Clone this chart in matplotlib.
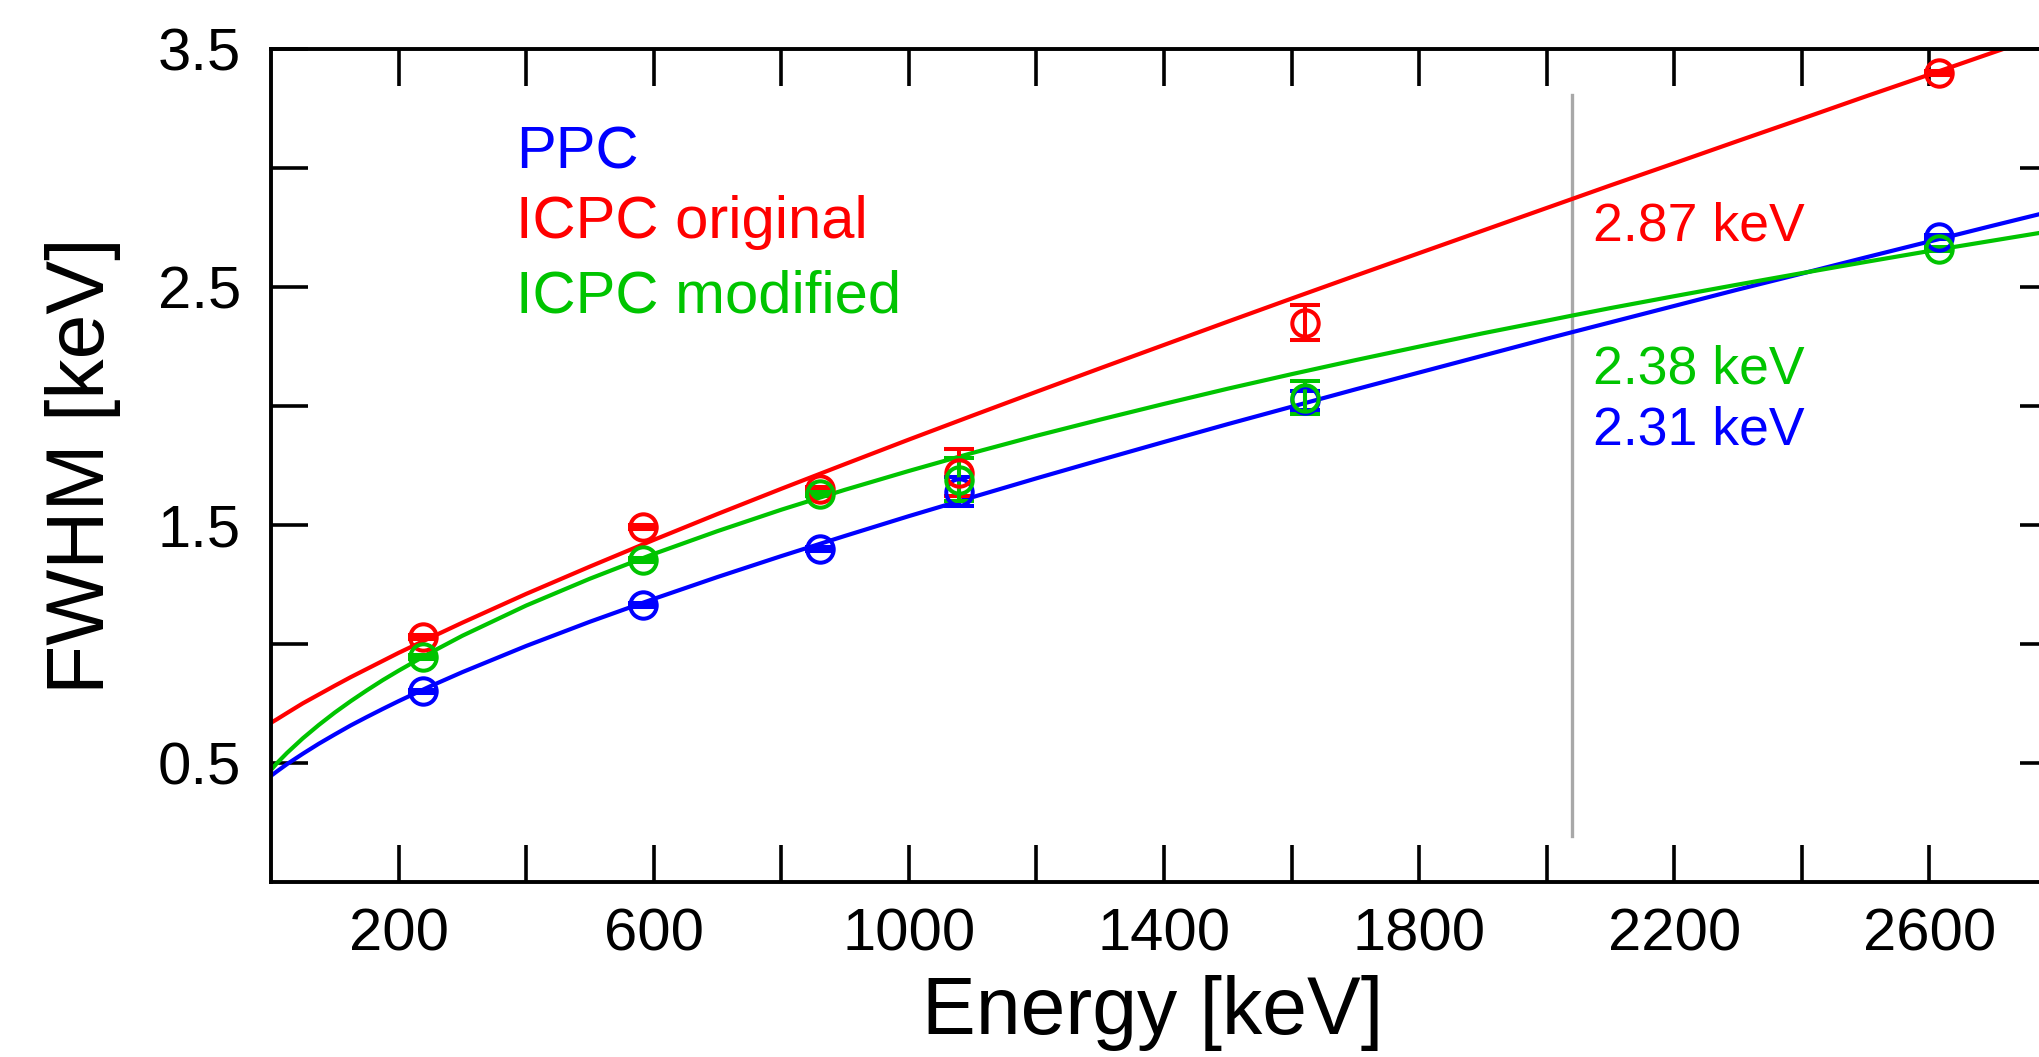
import numpy as np
import matplotlib
matplotlib.use('Agg')
from matplotlib import pyplot as plt

plt.rcParams['font.family'] = ['Liberation Sans', 'DejaVu Sans']

# peak energies of the calibration lines [keV]
energy = [238.6, 583.2, 860.6, 1078.6, 1620.5, 2614.5]

# measured FWHM [keV] and uncertainties per detector
ppc_fwhm = [0.80, 1.165, 1.40, 1.64, 2.025, 2.712]
ppc_err = [0.008, 0.008, 0.008, 0.06, 0.04, 0.008]
orig_fwhm = [1.028, 1.493, 1.651, 1.72, 2.35, 3.40]
orig_err = [0.008, 0.008, 0.008, 0.10, 0.073, 0.008]
mod_fwhm = [0.945, 1.351, 1.630, 1.69, 2.035, 2.662]
mod_err = [0.008, 0.008, 0.008, 0.09, 0.07, 0.008]

# resolution curves
fit_energy = [0, 10, 25, 50, 75, 100, 125, 150, 175, 200, 250, 300, 400, 500, 600,
              700, 800, 900, 1000, 1100, 1200, 1300, 1400, 1500, 1600, 1700, 1800,
              1900, 2000, 2039, 2100, 2200, 2300, 2400, 2500, 2600, 2700, 2800]
ppc_fit = [0.445, 0.465, 0.494, 0.538, 0.580, 0.619, 0.657, 0.692, 0.726, 0.759,
           0.822, 0.881, 0.991, 1.093, 1.189, 1.281, 1.369, 1.454, 1.537, 1.617,
           1.696, 1.773, 1.849, 1.924, 1.997, 2.070, 2.141, 2.212, 2.283, 2.310,
           2.352, 2.421, 2.490, 2.557, 2.625, 2.692, 2.759, 2.825]
orig_fit = [0.668, 0.684, 0.709, 0.750, 0.787, 0.824, 0.860, 0.894, 0.928, 0.962,
            1.026, 1.089, 1.210, 1.325, 1.437, 1.546, 1.652, 1.756, 1.859, 1.960,
            2.060, 2.159, 2.257, 2.355, 2.452, 2.548, 2.643, 2.738, 2.833, 2.870,
            2.928, 3.021, 3.115, 3.208, 3.302, 3.394, 3.487, 3.579]
mod_fit = [0.470, 0.500, 0.541, 0.603, 0.659, 0.711, 0.759, 0.804, 0.847, 0.887,
           0.963, 1.034, 1.161, 1.274, 1.378, 1.474, 1.564, 1.648, 1.727, 1.803,
           1.875, 1.943, 2.009, 2.073, 2.134, 2.193, 2.250, 2.306, 2.359, 2.380,
           2.412, 2.462, 2.511, 2.559, 2.606, 2.652, 2.696, 2.740]

q_bb = 2039
labels = ['PPC', 'ICPC original', 'ICPC modified']
q_labels = ['2.31 keV', '2.87 keV', '2.38 keV']

c_ppc = '#0000ff'
c_orig = '#ff0000'
c_mod = '#00c400'

fig = plt.figure(figsize=(20.39, 10.57), dpi=100)
ax = fig.add_axes([0.1329, 0.1659, 0.8759, 0.7874])

ax.plot(fit_energy, ppc_fit, color=c_ppc, lw=3.0, zorder=2)
ax.plot(fit_energy, orig_fit, color=c_orig, lw=3.0, zorder=2)
ax.plot(fit_energy, mod_fit, color=c_mod, lw=3.0, zorder=2)

for y, err, c in [(ppc_fwhm, ppc_err, c_ppc), (orig_fwhm, orig_err, c_orig), (mod_fwhm, mod_err, c_mod)]:
    ax.errorbar(energy, y, yerr=err, fmt='o', color=c, mfc='none', mec=c, ms=19, mew=2.9,
                elinewidth=2.9, capsize=10.5, capthick=2.9, zorder=3)

ax.plot([q_bb, q_bb], [0.19, 3.31], color='#a8a8a8', lw=2.4, zorder=1)

ax.text(384, 3.0, labels[0], color=c_ppc, fontsize=43)
ax.text(384, 2.705, labels[1], color=c_orig, fontsize=43)
ax.text(384, 2.395, labels[2], color=c_mod, fontsize=43)

ax.text(2072, 2.695, q_labels[1], color=c_orig, fontsize=38.5)
ax.text(2072, 2.095, q_labels[2], color=c_mod, fontsize=38.5)
ax.text(2072, 1.84, q_labels[0], color=c_ppc, fontsize=38.5)

ax.set_xlim(0, 2800)
ax.set_ylim(0, 3.5)

xt = np.arange(200, 2801, 200)
ax.set_xticks(xt)
ax.set_xticklabels([str(t) if t % 400 == 200 else '' for t in xt])
yt = np.arange(0.5, 3.51, 0.5)
ax.set_yticks(yt)
ax.set_yticklabels([('%.1f' % t) if round(t * 2) % 2 == 1 else '' for t in yt])

ax.tick_params(axis='both', which='major', direction='in', length=26.5, width=2.6,
               top=True, right=True, labelsize=43)
ax.tick_params(axis='x', pad=18.5)
ax.tick_params(axis='y', pad=21.5)
for s in ax.spines.values():
    s.set_linewidth(2.8)

ax.set_xlabel('Energy [keV]', fontsize=58)
ax.xaxis.set_label_coords(0.4938, -0.112)
ax.set_ylabel('FWHM [keV]', fontsize=58)
ax.yaxis.set_label_coords(-0.084, 0.5)

fig.savefig('out.png', dpi=100)
plt.close()
